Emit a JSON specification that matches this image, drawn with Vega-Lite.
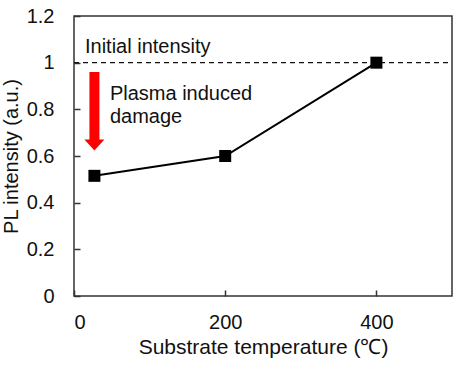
{
  "$schema": "https://vega.github.io/schema/vega-lite/v6.json",
  "width": 378,
  "height": 280,
  "autosize": "none",
  "padding": {"left": 74, "top": 16, "right": 14, "bottom": 70},
  "background": "white",
  "config": {
    "font": "Liberation Sans",
    "view": {"stroke": "#333333", "strokeWidth": 1.5},
    "axis": {"grid": false, "domain": false, "labelFont": "Liberation Sans", "titleFont": "Liberation Sans", "labelColor": "#111111", "titleColor": "#111111", "labelFontSize": 20, "titleFontSize": 21, "titleFontWeight": "normal", "tickColor": "#333333", "tickWidth": 1.5, "tickSize": -6, "labelExpr": "'' + datum.value"}
  },
  "datasets": {
    "pts": [
      {"temp": 27, "pl": 0.515},
      {"temp": 200, "pl": 0.60},
      {"temp": 400, "pl": 1.0}
    ],
    "ref": [{"x1": 0, "x2": 500, "y": 1.0}],
    "arrow": [{"x": 27, "y1": 0.96, "y2": 0.655, "yh": 0.647}],
    "labels": [
      {"x": 14.5, "y": 1.041, "t": "Initial intensity"},
      {"x": 47.5, "y": 0.84, "t": "Plasma induced"},
      {"x": 47.5, "y": 0.741, "t": "damage"}
    ]
  },
  "layer": [
    {
      "data": {"name": "ref"},
      "mark": {"type": "rule", "color": "#111111", "strokeWidth": 1.3, "strokeDash": [5, 4]},
      "encoding": {
        "x": {"field": "x1", "type": "quantitative", "scale": {"domain": [0, 500]}, "axis": {"values": [0, 200, 400], "title": "Substrate temperature (℃)", "labelPadding": 22, "titlePadding": 4}},
        "x2": {"field": "x2"},
        "y": {"field": "y", "type": "quantitative", "scale": {"domain": [0, 1.2]}, "axis": {"values": [0, 0.2, 0.4, 0.6, 0.8, 1, 1.2], "title": "PL intensity (a.u.)", "titleFontSize": 20, "labelPadding": 26, "titlePadding": 5}}
      }
    },
    {
      "data": {"name": "arrow"},
      "mark": {"type": "rule", "color": "#ff0000", "strokeWidth": 10},
      "encoding": {
        "x": {"field": "x", "type": "quantitative"},
        "y": {"field": "y1", "type": "quantitative"},
        "y2": {"field": "y2"}
      }
    },
    {
      "data": {"name": "arrow"},
      "mark": {"type": "point", "shape": "M-1,-0.55L1,-0.55L0,0.55Z", "filled": true, "color": "#ff0000", "size": 400, "opacity": 1},
      "encoding": {
        "x": {"field": "x", "type": "quantitative"},
        "y": {"field": "yh", "type": "quantitative"}
      }
    },
    {
      "data": {"name": "pts"},
      "mark": {"type": "line", "color": "#000000", "strokeWidth": 2},
      "encoding": {
        "x": {"field": "temp", "type": "quantitative"},
        "y": {"field": "pl", "type": "quantitative"}
      }
    },
    {
      "data": {"name": "pts"},
      "mark": {"type": "point", "shape": "square", "filled": true, "color": "#000000", "size": 144, "opacity": 1},
      "encoding": {
        "x": {"field": "temp", "type": "quantitative"},
        "y": {"field": "pl", "type": "quantitative"}
      }
    },
    {
      "data": {"name": "labels"},
      "mark": {"type": "text", "align": "left", "baseline": "alphabetic", "fontSize": 20, "color": "#111111"},
      "encoding": {
        "x": {"field": "x", "type": "quantitative"},
        "y": {"field": "y", "type": "quantitative"},
        "text": {"field": "t"}
      }
    }
  ]
}
